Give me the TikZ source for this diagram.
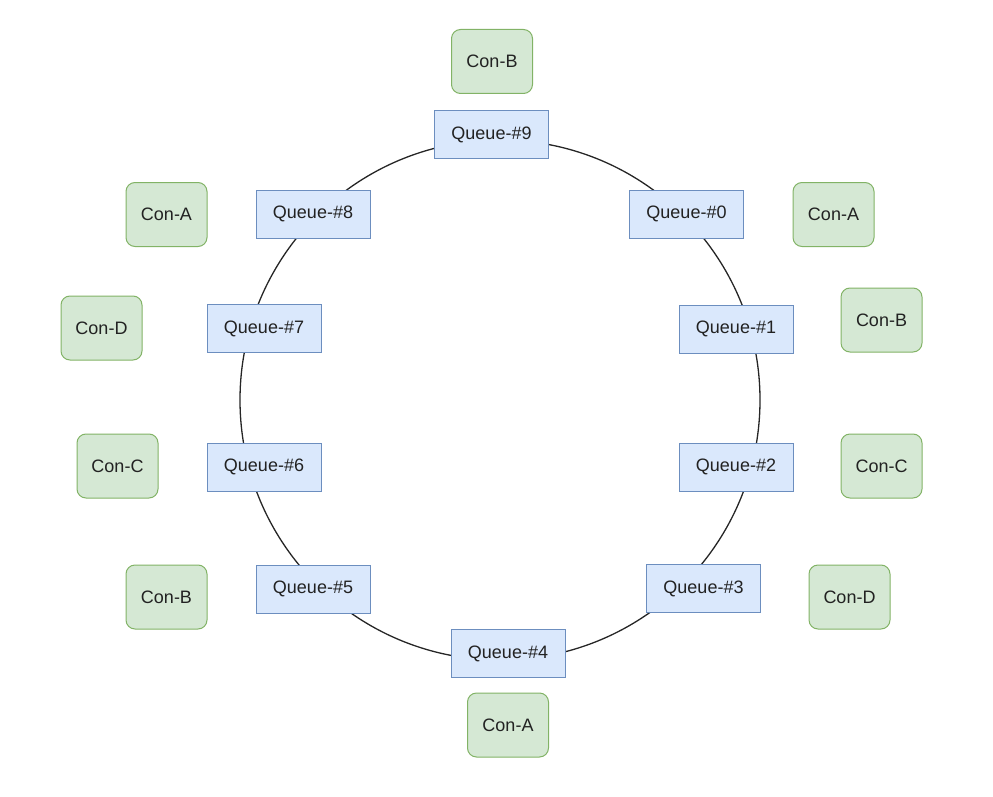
\documentclass[tikz,border=0pt]{standalone}
\usepackage{fontspec}
\setmainfont{Liberation Sans}
\definecolor{qfill}{HTML}{DAE8FC}
\definecolor{qdraw}{HTML}{6C8EBF}
\definecolor{cfill}{HTML}{D5E8D4}
\definecolor{cdraw}{HTML}{82B366}
\definecolor{txt}{HTML}{222222}
\begin{document}
\begin{tikzpicture}[x=1pt,y=-1pt,
  queue/.style={draw=qdraw,fill=qfill,line width=1pt,minimum width=114pt,minimum height=48pt,inner sep=0pt,text=txt,font=\fontsize{18}{20}\selectfont},
  cons/.style={draw=cdraw,fill=cfill,line width=1pt,rounded corners=9pt,minimum width=81pt,minimum height=64pt,inner sep=0pt,text=txt,font=\fontsize{18}{20}\selectfont}]
\useasboundingbox (0,0) rectangle (993,797);
\coordinate (ctr) at (500,400);
\draw[line width=1.3pt,black!85] (ctr) circle[radius=260pt];
\node[queue] (q9) at (491.5,134.5) {Queue-\#9};
\node[queue] (q0) at (686.5,214) {Queue-\#0};
\node[queue] (q1) at (736,329) {Queue-\#1};
\node[queue] (q2) at (736,467) {Queue-\#2};
\node[queue] (q3) at (703.5,588.5) {Queue-\#3};
\node[queue] (q4) at (508,653.5) {Queue-\#4};
\node[queue] (q5) at (313,589) {Queue-\#5};
\node[queue] (q6) at (264,467) {Queue-\#6};
\node[queue] (q7) at (264,328.5) {Queue-\#7};
\node[queue] (q8) at (313,214) {Queue-\#8};
\node[cons] (c9) at (492,61.5) {Con-B};
\node[cons] (c0) at (833.5,214.5) {Con-A};
\node[cons] (c1) at (881.5,320) {Con-B};
\node[cons] (c2) at (881.5,466) {Con-C};
\node[cons] (c3) at (849.5,597) {Con-D};
\node[cons] (c4) at (508,725) {Con-A};
\node[cons] (c5) at (166.5,597) {Con-B};
\node[cons] (c6) at (117.5,466) {Con-C};
\node[cons] (c7) at (101.5,328) {Con-D};
\node[cons] (c8) at (166.5,214.5) {Con-A};
\end{tikzpicture}
\end{document}
